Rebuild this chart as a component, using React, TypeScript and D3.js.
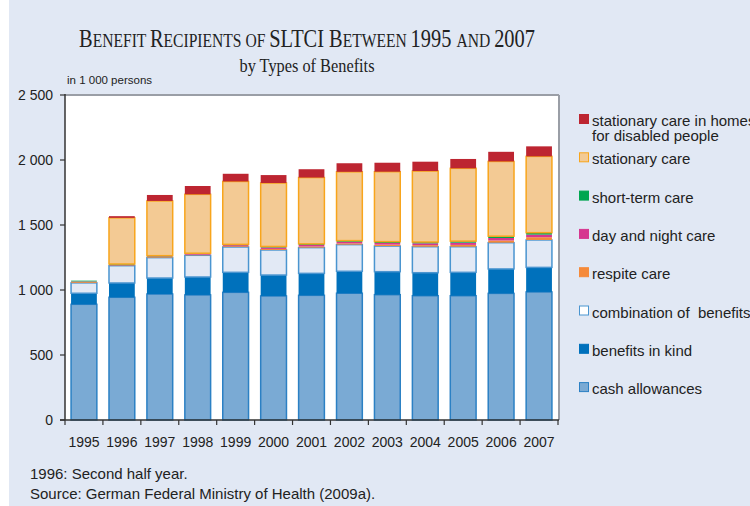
import React from "react";
import * as d3 from "d3";

const years = ["1995","1996","1997","1998","1999","2000","2001","2002","2003","2004","2005","2006","2007"];
const cashAllowances = [890, 944, 969, 962, 982, 954, 959, 975, 964, 956, 956, 974, 985];
const benefitsInKind = [85, 110, 123, 138, 154, 161, 169, 169, 177, 177, 180, 188, 189];
const combination = [80, 133, 157, 167, 195, 193, 198, 205, 197, 200, 197, 202, 211];
const respiteCare = [8, 4, 5, 5, 6, 8, 9, 10, 11, 12, 14, 17, 21];
const dayNightCare = [3, 4, 5, 6, 8, 11, 12, 12, 13, 14, 17, 19, 20];
const shortTermCare = [6, 5, 5, 5, 6, 8, 8, 9, 10, 10, 12, 14, 15];
const stationaryCare = [0, 355, 421, 453, 484, 488, 510, 529, 538, 546, 560, 575, 587];
const disabledHomes = [0, 13, 46, 64, 59, 61, 64, 66, 69, 72, 72, 74, 77];
const yTicks = [0, 500, 1000, 1500, 2000, 2500];

const series = [
  { key: "cash", label: ["cash allowances"], values: cashAllowances, fill: "#7aaad4", stroke: "#2b80c4" },
  { key: "kind", label: ["benefits in kind"], values: benefitsInKind, fill: "#0071bc", stroke: "#0071bc" },
  { key: "comb", label: ["combination of  benefits"], values: combination, fill: "#e2e9f5", stroke: "#4a95d0" },
  { key: "respite", label: ["respite care"], values: respiteCare, fill: "#f58a3a", stroke: "#f58a3a" },
  { key: "daynight", label: ["day and night care"], values: dayNightCare, fill: "#d6368f", stroke: "#d6368f" },
  { key: "short", label: ["short-term care"], values: shortTermCare, fill: "#00a650", stroke: "#00a650" },
  { key: "stat", label: ["stationary care"], values: stationaryCare, fill: "#f3ca94", stroke: "#f8a51c" },
  { key: "dis", label: ["stationary care in homes", "for disabled people"], values: disabledHomes, fill: "#bd2531", stroke: "#bd2531" },
];

const W = 750, H = 506;
const left = 65, right = 558, top = 95, bottom = 420;

export default function App() {
  const x = d3.scaleBand<string>().domain(years).range([left, right]).paddingInner(0.32).paddingOuter(0.16);
  const y = d3.scaleLinear().domain([0, 2500]).range([bottom, top]);
  const rows = years.map((yr, i) => {
    const r: any = { year: yr };
    series.forEach(s => (r[s.key] = s.values[i]));
    return r;
  });
  const stack = d3.stack<any>().keys(series.map(s => s.key))(rows);
  const sans = "'Liberation Sans', Arial, sans-serif";
  const serif = "'Liberation Serif', 'Times New Roman', serif";
  const big = 25.5, small = 19.5;
  const titleParts: [string, boolean][] = [
    ["B", true], ["ENEFIT ", false], ["R", true], ["ECIPIENTS OF ", false], ["SLTCI B", true],
    ["ETWEEN ", false], ["1995 ", true], ["AND ", false], ["2007", true],
  ];
  const step = x.step();
  const boundaries = years.map((_, i) => left + i * step).concat([right]);
  const legendItems = [...series].reverse();

  return (
    <svg width={W} height={H} style={{ position: "absolute", left: 0, top: 0 }} xmlns="http://www.w3.org/2000/svg">
      <rect x={0} y={0} width={W} height={H} fill="#ffffff" />
      <rect x={9} y={0} width={W - 9} height={H} fill="#e1e8f4" />
      <g transform="translate(307,46.5) scale(0.8,1)">
        <text x={0} y={0} textAnchor="middle" fontFamily={serif} fill="#222">
          {titleParts.map(([t, b], i) => (
            <tspan key={i} fontSize={b ? big : small}>{t}</tspan>
          ))}
        </text>
      </g>
      <g transform="translate(307,71.5) scale(0.86,1)">
        <text x={0} y={0} textAnchor="middle" fontFamily={serif} fontSize={19} fill="#222">by Types of Benefits</text>
      </g>
      <text x={67} y={83.5} fontFamily={sans} fontSize={11.5} fill="#222">in 1 000 persons</text>

      <rect x={left} y={top} width={right - left} height={bottom - top} fill="#ffffff" />
      <line x1={left} x2={right + 1} y1={top} y2={top} stroke="#9a9ea6" strokeWidth={2} />
      <line x1={right + 1} x2={right + 1} y1={top} y2={bottom} stroke="#9a9ea6" strokeWidth={2} />

      {stack.map((layer, li) => {
        const s = series[li];
        return (
          <g key={s.key}>
            {layer.map((d, i) => {
              const h = y(d[0]) - y(d[1]);
              if (h <= 0) return null;
              const thin = s.stroke === s.fill;
              return (
                <rect
                  key={i}
                  x={(x(years[i]) as number)}
                  y={y(d[1])}
                  width={x.bandwidth()}
                  height={h}
                  fill={s.fill}
                  stroke={thin ? "none" : s.stroke}
                  strokeWidth={1.5}
                />
              );
            })}
          </g>
        );
      })}

      <line x1={left} x2={left} y1={top - 1} y2={bottom} stroke="#333" strokeWidth={1.5} />
      <line x1={left - 5} x2={right + 1} y1={bottom} y2={bottom} stroke="#333" strokeWidth={1.5} />
      {yTicks.map(t => (
        <g key={t}>
          <line x1={left - 5} x2={left} y1={y(t)} y2={y(t)} stroke="#333" strokeWidth={1.2} />
          <text x={53} y={y(t) + 5} textAnchor="end" fontFamily={sans} fontSize={14} fill="#222">
            {d3.format(",")(t).replace(/,/g, " ")}
          </text>
        </g>
      ))}
      {boundaries.map((bx, i) => (
        <line key={i} x1={bx} x2={bx} y1={bottom} y2={bottom + 5} stroke="#333" strokeWidth={1.2} />
      ))}
      {years.map(yr => (
        <text key={yr} x={(x(yr) as number) + x.bandwidth() / 2} y={446.5} textAnchor="middle" fontFamily={sans} fontSize={14} fill="#222">
          {yr}
        </text>
      ))}

      {legendItems.map((s, i) => {
        const ly = 114 + i * 38.3;
        return (
          <g key={s.key}>
            <rect x={579.5} y={ly + 0.5} width={9} height={9} fill={s.key === "comb" ? "#ffffff" : s.fill} stroke={s.stroke} strokeWidth={1} />
            {s.label.map((l, j) => (
              <text key={j} x={592} y={ly + 12 + j * 15} fontFamily={sans} fontSize={15} fill="#222" style={{ whiteSpace: "pre" }}>
                {l}
              </text>
            ))}
          </g>
        );
      })}

      <text x={30} y={479} fontFamily={sans} fontSize={15} fill="#222">1996: Second half year.</text>
      <text x={30} y={499} fontFamily={sans} fontSize={15} fill="#222">Source: German Federal Ministry of Health (2009a).</text>
    </svg>
  );
}
